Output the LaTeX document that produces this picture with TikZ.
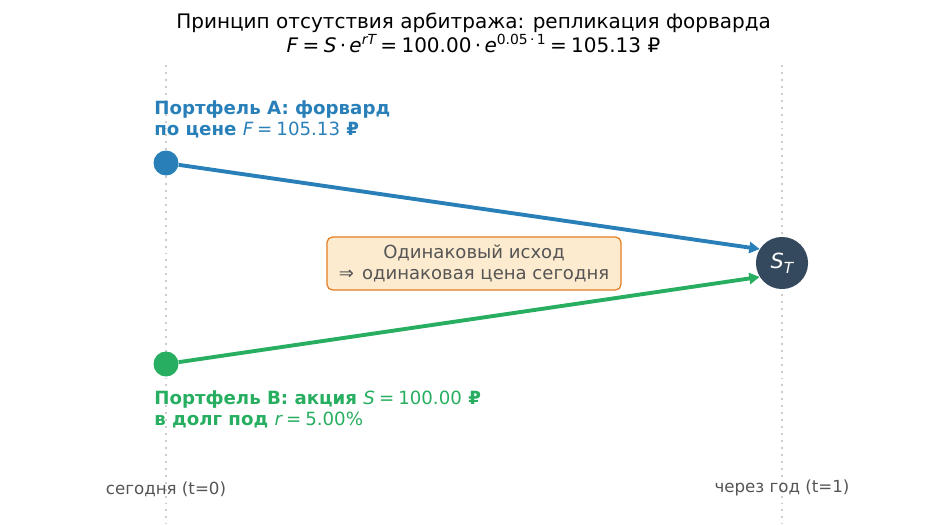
\documentclass[tikz,border=0pt]{standalone}
\usepackage{fontspec}
\setmainfont{DejaVu Sans}
\usetikzlibrary{arrows.meta}
\definecolor{cblue}{HTML}{2980B9}
\definecolor{cgreen}{HTML}{27AE60}
\definecolor{cdark}{HTML}{34495E}
\definecolor{corange}{HTML}{E67E22}
\definecolor{cfill}{HTML}{FDEBD0}
\definecolor{cgray}{HTML}{555555}
\definecolor{cline}{HTML}{CCCCCC}
\newcommand{\mvar}[1]{{\mdseries\itshape #1}}
\newcommand{\mnum}[1]{{\mdseries #1}}
\newcommand{\meq}{\hspace{0.22em}=\hspace{0.22em}}
\newcommand{\msup}[1]{\raisebox{0.42em}{\fontsize{10}{12}\selectfont #1}}
\begin{document}
\begin{tikzpicture}[x=0.72pt,y=-0.72pt,
  timeline/.style={cline,line width=1.4pt,dash pattern=on 1.4pt off 3.6pt},
  dotnode/.style={circle,inner sep=0pt,minimum size=18pt},
  flow/.style={line width=2.8pt,-{Triangle[length=7.5pt,width=8pt]}},
  lbl/.style={font=\fontsize{13.1}{15.2}\selectfont\bfseries,align=left,inner sep=0pt},
  timelbl/.style={font=\fontsize{12}{14}\selectfont,text=cgray,inner sep=0pt}]
\useasboundingbox (0,0) rectangle (947,524);
% time lines
\coordinate (L0) at (166,65);
\coordinate (L1) at (166,524);
\coordinate (R0) at (782,65);
\coordinate (R1) at (782,524);
\draw[timeline] (L0) -- (L1);
\draw[timeline] (R0) -- (R1);
% title
\node[align=center,font=\fontsize{14.4}{17.3}\selectfont,inner sep=0pt] (title) at (473.5,33)
 {Принцип отсутствия арбитража: репликация форварда\\
  \mvar{F}\meq\mvar{S}\,·\,\mvar{e}\msup{\mvar{rT}}\meq100.00\,·\,\mvar{e}\msup{0.05\,·\,1}\meq105.13 ₽};
% nodes
\node[dotnode,fill=cblue] (A) at (166,163) {};
\node[dotnode,fill=cgreen] (B) at (166,364) {};
\node[circle,fill=cdark,inner sep=0pt,minimum size=37.5pt,text=white,
  font=\fontsize{15}{18}\selectfont\itshape] (ST) at (782,263) {S\raisebox{-0.25em}{\fontsize{11}{13}\selectfont T}};
% arrows
\draw[flow,cblue] (A) -- (ST.148);
\draw[flow,cgreen] (B) -- (ST.212);
% box
\node[draw=corange,fill=cfill,line width=0.9pt,rounded corners=4pt,
  minimum width=211.7pt,minimum height=38.2pt,align=center,text=cgray,
  font=\fontsize{13}{15.1}\selectfont] (box) at (474,263.5)
  {Одинаковый исход\\ ⇒\hspace{0.45em}одинаковая цена сегодня};
% labels
\node[lbl,text=cblue,anchor=north west] (labA) at (154,100)
 {Портфель A: форвард\\по цене \mvar{F}\mnum{\meq105.13} ₽};
\node[lbl,text=cgreen,anchor=north west] (labB) at (154,390)
 {Портфель B: акция \mvar{S}\mnum{\meq100.00} ₽\\в долг под \mvar{r}\mnum{\meq5.00\%}};
% time labels
\node[timelbl] (t0) at (166,489) {сегодня (t=0)};
\node[timelbl] (t1) at (782,488) {через год (t=1)};
\end{tikzpicture}
\end{document}
